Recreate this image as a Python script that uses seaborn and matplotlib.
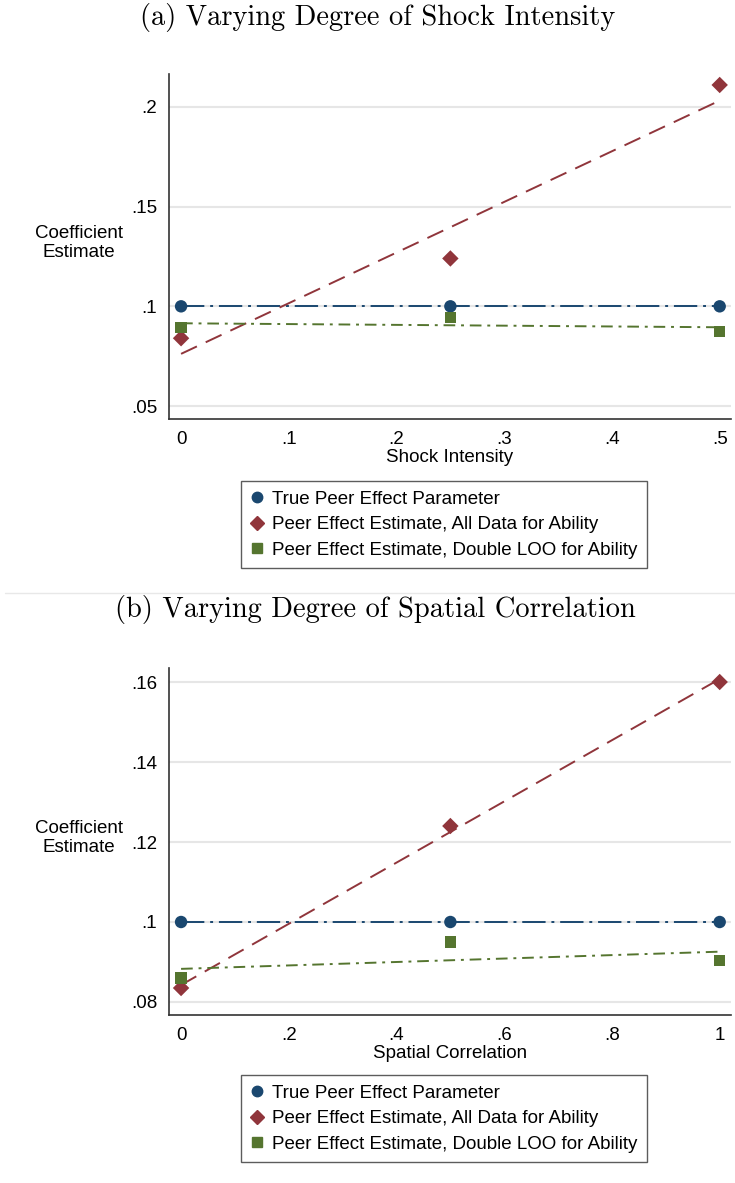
"""Simulation results: peer effect estimates under shock intensity / spatial correlation."""

import matplotlib
matplotlib.use("Agg")
import matplotlib.pyplot as plt
from matplotlib.lines import Line2D
import pandas as pd
import seaborn as sns

# ---- data ----
shock_intensity = [0.0, 0.25, 0.5]
true_a = [0.1, 0.1, 0.1]
all_data_a = [0.084, 0.124, 0.211]
double_loo_a = [0.0895, 0.0945, 0.0875]

spatial_corr = [0.0, 0.5, 1.0]
true_b = [0.1, 0.1, 0.1]
all_data_b = [0.0835, 0.124, 0.160]
double_loo_b = [0.086, 0.095, 0.0903]

series_names = [
    "True Peer Effect Parameter",
    "Peer Effect Estimate, All Data for Ability",
    "Peer Effect Estimate, Double LOO for Ability",
]

xticks_a = [0, 0.1, 0.2, 0.3, 0.4, 0.5]
xticklabels_a = ["0", ".1", ".2", ".3", ".4", ".5"]
yticks_a = [0.05, 0.1, 0.15, 0.2]
yticklabels_a = [".05", ".1", ".15", ".2"]

xticks_b = [0, 0.2, 0.4, 0.6, 0.8, 1.0]
xticklabels_b = ["0", ".2", ".4", ".6", ".8", "1"]
yticks_b = [0.08, 0.1, 0.12, 0.14, 0.16]
yticklabels_b = [".08", ".1", ".12", ".14", ".16"]

# Stata s2color-ish palette
NAVY = "#1a476f"
MAROON = "#90353b"
GREEN = "#55752f"
colors = [NAVY, MAROON, GREEN]
markers = ["o", "D", "s"]
marker_sizes = [80, 70, 65]
line_styles = [(0, (12, 3, 1.5, 3)), (0, (9, 5)), (0, (6, 3, 1.5, 3))]

sns.set_style("white")
plt.rcParams["font.family"] = ["Liberation Sans", "DejaVu Sans"]
plt.rcParams["text.color"] = "black"
plt.rcParams["axes.labelcolor"] = "black"
plt.rcParams["xtick.color"] = "black"
plt.rcParams["ytick.color"] = "black"

W, H = 735, 1183
fig = plt.figure(figsize=(W / 100, H / 100), dpi=100)


def px_axes(left, top, right, bottom):
    return fig.add_axes([left / W, 1 - bottom / H, (right - left) / W, (bottom - top) / H])


def draw_panel(ax, x, ys, xlabel, xticks, xticklabels, yticks, yticklabels, xlim, ylim):
    for y, name, c, m, s, ls in zip(ys, series_names, colors, markers, marker_sizes, line_styles):
        df = pd.DataFrame({"x": x, "y": y})
        # fitted line, as in the original graph
        sns.regplot(data=df, x="x", y="y", ax=ax, scatter=False, ci=None,
                    line_kws={"color": c, "lw": 1.4, "linestyle": ls})
        sns.scatterplot(data=df, x="x", y="y", ax=ax, color=c, marker=m, s=s,
                        edgecolor="none", zorder=3)
    ax.set_xlim(*xlim)
    ax.set_ylim(*ylim)
    ax.set_xticks(xticks)
    ax.set_xticklabels(xticklabels)
    ax.set_yticks(yticks)
    ax.set_yticklabels(yticklabels)
    ax.tick_params(axis="both", direction="out", length=5.5, width=1, color="#333333",
                   labelsize=13.5, pad=3)
    ax.yaxis.grid(True, color="#e6e6e6", lw=1.5)
    ax.set_axisbelow(True)
    for side in ["top", "right"]:
        ax.spines[side].set_visible(False)
    for side in ["left", "bottom"]:
        ax.spines[side].set_color("#333333")
        ax.spines[side].set_linewidth(1.2)
    ax.set_xlabel(xlabel, fontsize=13.5, labelpad=1)
    ax.set_ylabel("Coefficient\nEstimate", fontsize=13.5, rotation=0, ha="center", va="center",
                  linespacing=1.1)
    ax.yaxis.set_label_coords(-0.16, 0.51)


def draw_legend(top_px):
    handles = [Line2D([], [], color=c, marker=m, linestyle="none", markersize=ms)
               for c, m, ms in zip(colors, markers, [7.5, 7, 6.5])]
    leg = fig.legend(handles, series_names, loc="upper left",
                     bbox_to_anchor=(241 / W, 1 - top_px / H), borderaxespad=0,
                     fontsize=13.5, frameon=True, fancybox=False, handlelength=0.7,
                     handletextpad=0.45, labelspacing=0.45, borderpad=0.5)
    leg.get_frame().set_edgecolor("#333333")
    leg.get_frame().set_linewidth(1.0)


ax_a = px_axes(169, 74, 731, 419)
draw_panel(ax_a, shock_intensity, [true_a, all_data_a, double_loo_a], "Shock Intensity",
           xticks_a, xticklabels_a, yticks_a, yticklabels_a,
           (-0.0112, 0.5105), (0.0435, 0.2165))
draw_legend(481)

ax_b = px_axes(169, 668, 731, 1015)
draw_panel(ax_b, spatial_corr, [true_b, all_data_b, double_loo_b], "Spatial Correlation",
           xticks_b, xticklabels_b, yticks_b, yticklabels_b,
           (-0.0224, 1.021), (0.07675, 0.1635))
draw_legend(1075)

fig.text(378 / W, 1 - 18 / H, "(a) Varying Degree of Shock Intensity", family="cmr10",
         fontsize=20.5, ha="center", va="center")
fig.text(375 / W, 1 - 610 / H, "(b) Varying Degree of Spatial Correlation", family="cmr10",
         fontsize=20.5, ha="center", va="center")
fig.add_artist(Line2D([5 / W, 1], [1 - 593 / H] * 2, color="#e8e8e8", lw=1))

fig.savefig("out.png", dpi=100)
plt.close(fig)
